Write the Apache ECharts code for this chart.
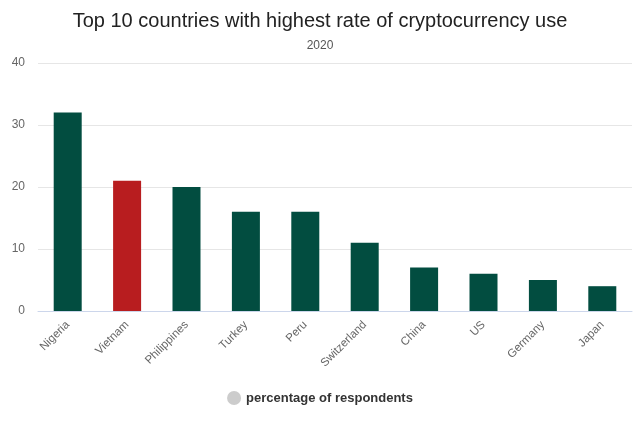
<!DOCTYPE html>
<html><head><meta charset="utf-8">
<script src="https://cdn.jsdelivr.net/npm/echarts@6/dist/echarts.min.js"></script>
<style>html,body{margin:0;padding:0;background:#fff}#c{width:640px;height:427px}</style>
</head><body><div id="c"></div>
<script>
const categories = ['Nigeria','Vietnam','Philippines','Turkey','Peru','Switzerland','China','US','Germany','Japan'];
const values = [32,21,20,16,16,11,7,6,5,4];
const highlight = 'Vietnam';
const yTicks = [0,10,20,30,40];

const chart = echarts.init(document.getElementById('c'));
chart.setOption({
  animation:false,
  title:[{text:'Top 10 countries with highest rate of cryptocurrency use',left:'center',top:6,
    textStyle:{fontFamily:'Liberation Sans, Arial',fontSize:20,fontWeight:'normal',color:'#222'}},
    {text:'2020',left:'center',top:35,textStyle:{fontFamily:'Liberation Sans, Arial',fontSize:12,fontWeight:'normal',color:'#555'}}],
  grid:{left:38,right:8,top:63,bottom:116},
  legend:{bottom:17,left:'center',icon:'circle',itemWidth:14,itemHeight:14,
    itemStyle:{color:'#ccc'},
    textStyle:{fontFamily:'Liberation Sans, Arial',fontSize:13,fontWeight:'bold',color:'#333'},
    data:['percentage of respondents']},
  xAxis:{type:'category',data:categories,
    axisLine:{lineStyle:{color:'#ccd6eb'}},axisTick:{show:false},
    axisLabel:{rotate:45,color:'#666',fontSize:11.5,fontFamily:'Liberation Sans, Arial',margin:12}},
  yAxis:{type:'value',min:yTicks[0],max:yTicks[yTicks.length-1],interval:10,
    axisLine:{show:false},axisTick:{show:false},
    splitLine:{lineStyle:{color:'#e6e6e6'}},
    axisLabel:{color:'#666',fontSize:12,fontFamily:'Liberation Sans, Arial',margin:13}},
  series:[{name:'percentage of respondents',type:'bar',barWidth:28,
    data:values.map((v,i)=>({value:v,itemStyle:{color:categories[i]===highlight?'#b81d1f':'#024d40'}})),
    itemStyle:{color:'#024d40'}}]
});
</script></body></html>
